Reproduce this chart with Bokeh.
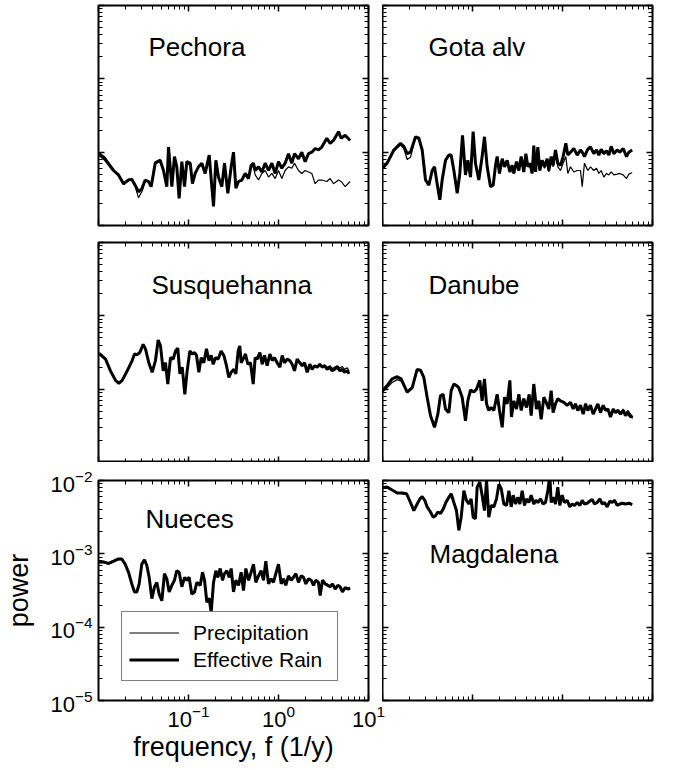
from bokeh.plotting import figure
from bokeh.models import (LogAxis, LogTicker, FixedTicker, CustomJSTickFormatter,
                          Label, Legend, LegendItem, Range1d)
from bokeh.layouts import column, row
from bokeh.embed import file_html
from bokeh.resources import INLINE

FONT = "Liberation Sans"
FREQ_RANGE = (0.01, 10.0)
POWER_RANGE = (1e-5, 1e-2)

# ---------------------------------------------------------------------------
# Data: log10(frequency [1/y]) and log10(power)
# ---------------------------------------------------------------------------
pechora_f = [-2.000, -1.926, -1.833, -1.778, -1.722, -1.667, -1.630, -1.593, -1.556, -1.519,
             -1.481, -1.444, -1.415, -1.389, -1.370, -1.315, -1.278, -1.241, -1.222, -1.185,
             -1.156, -1.130, -1.104, -1.074, -1.044, -1.019, -0.981, -0.956, -0.926, -0.889,
             -0.852, -0.815, -0.770, -0.741, -0.722, -0.696, -0.667, -0.630, -0.600, -0.563,
             -0.526, -0.500, -0.474, -0.444, -0.407, -0.370, -0.333, -0.304, -0.278, -0.259,
             -0.222, -0.185, -0.148, -0.111, -0.074, -0.037, 0.000, 0.037, 0.074, 0.111,
             0.148, 0.178, 0.222, 0.259, 0.296, 0.333, 0.370, 0.407, 0.444, 0.481,
             0.537, 0.574, 0.611, 0.667, 0.696, 0.741, 0.796]
pechora_eff = [-4.02, -4.10, -4.25, -4.31, -4.43, -4.38, -4.37, -4.45, -4.54, -4.50,
               -4.38, -4.40, -4.47, -4.29, -4.15, -4.11, -4.25, -4.47, -3.93, -4.47,
               -4.06, -4.20, -4.63, -4.13, -4.47, -4.13, -4.15, -4.43, -4.29, -4.20,
               -4.15, -4.29, -4.04, -4.47, -4.74, -4.11, -4.34, -4.47, -4.15, -4.56,
               -4.20, -4.00, -4.49, -4.40, -4.38, -4.29, -4.36, -4.18, -4.15, -4.25,
               -4.20, -4.27, -4.15, -4.25, -4.15, -4.29, -4.13, -4.22, -4.15, -4.02,
               -4.15, -4.02, -4.09, -4.00, -4.13, -4.02, -4.00, -3.95, -3.97, -3.93,
               -3.81, -3.88, -3.84, -3.72, -3.81, -3.77, -3.84]
pechora_pre = [-4.00, -4.07, -4.24, -4.31, -4.44, -4.38, -4.38, -4.47, -4.62, -4.54,
               -4.39, -4.40, -4.47, -4.25, -4.13, -4.10, -4.25, -4.45, -3.95, -4.45,
               -4.09, -4.20, -4.61, -4.15, -4.45, -4.15, -4.18, -4.40, -4.29, -4.20,
               -4.18, -4.29, -4.06, -4.45, -4.72, -4.13, -4.34, -4.47, -4.18, -4.54,
               -4.20, -4.02, -4.47, -4.40, -4.38, -4.31, -4.36, -4.20, -4.20, -4.31,
               -4.38, -4.29, -4.25, -4.34, -4.29, -4.36, -4.25, -4.36, -4.25, -4.20,
               -4.22, -4.15, -4.25, -4.29, -4.25, -4.27, -4.29, -4.43, -4.38, -4.38,
               -4.40, -4.36, -4.43, -4.38, -4.40, -4.47, -4.40]

gota_f = [-2.000, -1.948, -1.874, -1.800, -1.763, -1.726, -1.689, -1.633, -1.596, -1.559,
          -1.522, -1.485, -1.448, -1.422, -1.393, -1.363, -1.337, -1.300, -1.263, -1.237,
          -1.207, -1.170, -1.141, -1.111, -1.078, -1.052, -1.022, -0.993, -0.967, -0.930,
          -0.893, -0.867, -0.837, -0.800, -0.770, -0.744, -0.726, -0.700, -0.670, -0.644,
          -0.615, -0.585, -0.559, -0.541, -0.511, -0.485, -0.459, -0.430, -0.407, -0.385,
          -0.363, -0.337, -0.319, -0.300, -0.274, -0.252, -0.226, -0.200, -0.170, -0.152,
          -0.126, -0.104, -0.078, -0.052, -0.022, 0.007, 0.037, 0.059, 0.089, 0.126,
          0.163, 0.200, 0.219, 0.244, 0.281, 0.311, 0.348, 0.378, 0.404, 0.430,
          0.459, 0.489, 0.515, 0.541, 0.570, 0.607, 0.637, 0.674, 0.711, 0.737,
          0.774]
gota_eff = [-4.22, -4.15, -3.97, -3.88, -3.92, -4.02, -4.00, -3.79, -3.81, -3.97,
            -4.38, -4.45, -4.25, -4.20, -4.43, -4.65, -4.38, -4.11, -4.04, -4.04,
            -4.25, -4.56, -4.29, -3.77, -4.31, -4.11, -4.34, -3.72, -4.15, -4.38,
            -4.06, -3.79, -4.20, -4.47, -4.45, -4.18, -4.06, -4.29, -4.09, -4.20,
            -4.11, -4.27, -4.18, -4.29, -4.13, -4.25, -4.06, -4.27, -4.02, -4.20,
            -4.15, -4.29, -3.91, -4.27, -3.93, -4.25, -4.11, -4.20, -4.09, -4.25,
            -4.06, -4.18, -3.97, -4.15, -4.18, -4.06, -3.88, -4.04, -4.00, -3.95,
            -4.04, -3.97, -4.00, -4.06, -3.96, -3.93, -4.02, -3.97, -4.04, -3.96,
            -4.02, -3.98, -4.04, -3.92, -4.02, -3.97, -4.00, -3.95, -4.06, -4.00,
            -3.97]
gota_pre = [-4.20, -4.13, -3.99, -3.90, -3.95, -4.10, -4.07, -3.80, -3.83, -3.99,
            -4.38, -4.44, -4.25, -4.22, -4.42, -4.63, -4.38, -4.13, -4.05, -4.05,
            -4.25, -4.54, -4.29, -3.79, -4.31, -4.13, -4.34, -3.74, -4.15, -4.37,
            -4.07, -3.81, -4.20, -4.45, -4.44, -4.18, -4.07, -4.29, -4.10, -4.20,
            -4.12, -4.27, -4.18, -4.29, -4.14, -4.25, -4.08, -4.27, -4.04, -4.20,
            -4.15, -4.29, -3.93, -4.27, -3.95, -4.25, -4.13, -4.22, -4.11, -4.27,
            -4.09, -4.20, -4.02, -4.20, -4.25, -4.15, -4.06, -4.29, -4.20, -4.27,
            -4.25, -4.25, -4.47, -4.15, -4.25, -4.20, -4.25, -4.22, -4.29, -4.25,
            -4.34, -4.29, -4.31, -4.27, -4.31, -4.30, -4.29, -4.31, -4.36, -4.30,
            -4.28]

susq_f = [-1.990, -1.922, -1.867, -1.811, -1.774, -1.737, -1.681, -1.626, -1.600, -1.570,
          -1.541, -1.504, -1.478, -1.441, -1.404, -1.367, -1.337, -1.311, -1.281, -1.256,
          -1.230, -1.200, -1.170, -1.144, -1.119, -1.096, -1.070, -1.041, -1.015, -0.985,
          -0.959, -0.933, -0.911, -0.885, -0.859, -0.830, -0.800, -0.774, -0.748, -0.726,
          -0.700, -0.670, -0.637, -0.607, -0.578, -0.552, -0.526, -0.496, -0.474, -0.448,
          -0.430, -0.415, -0.393, -0.367, -0.341, -0.311, -0.281, -0.259, -0.237, -0.207,
          -0.181, -0.156, -0.126, -0.096, -0.070, -0.044, -0.015, 0.015, 0.041, 0.067,
          0.096, 0.126, 0.152, 0.178, 0.207, 0.237, 0.263, 0.289, 0.319, 0.348,
          0.374, 0.400, 0.430, 0.459, 0.485, 0.511, 0.541, 0.570, 0.596, 0.622,
          0.652, 0.681, 0.707, 0.733, 0.763, 0.785]
susq_eff = [-3.52, -3.59, -3.75, -3.88, -3.92, -3.88, -3.75, -3.61, -3.52, -3.53,
            -3.50, -3.39, -3.45, -3.64, -3.77, -3.61, -3.33, -3.41, -3.75, -3.64,
            -3.93, -3.57, -3.59, -3.48, -3.44, -3.79, -3.70, -4.07, -3.75, -3.48,
            -3.52, -3.50, -3.54, -3.77, -3.57, -3.64, -3.45, -3.61, -3.54, -3.66,
            -3.57, -3.59, -3.48, -3.54, -3.68, -3.84, -3.77, -3.73, -3.79, -3.48,
            -3.41, -3.64, -3.59, -3.52, -3.66, -3.64, -3.93, -3.57, -3.59, -3.50,
            -3.66, -3.54, -3.68, -3.52, -3.61, -3.57, -3.64, -3.70, -3.54, -3.64,
            -3.59, -3.61, -3.66, -3.75, -3.59, -3.64, -3.68, -3.64, -3.77, -3.66,
            -3.73, -3.68, -3.70, -3.66, -3.70, -3.68, -3.73, -3.70, -3.75, -3.73,
            -3.70, -3.75, -3.73, -3.77, -3.75, -3.79]
susq_pre = [-3.50, -3.58, -3.74, -3.87, -3.91, -3.87, -3.74, -3.61, -3.53, -3.54,
            -3.50, -3.40, -3.46, -3.64, -3.76, -3.61, -3.34, -3.42, -3.74, -3.64,
            -3.92, -3.58, -3.59, -3.49, -3.45, -3.78, -3.70, -4.05, -3.74, -3.49,
            -3.52, -3.51, -3.54, -3.76, -3.57, -3.64, -3.46, -3.61, -3.55, -3.66,
            -3.57, -3.59, -3.49, -3.54, -3.68, -3.83, -3.77, -3.73, -3.78, -3.49,
            -3.42, -3.64, -3.59, -3.52, -3.66, -3.64, -3.92, -3.57, -3.59, -3.51,
            -3.66, -3.55, -3.68, -3.53, -3.61, -3.57, -3.64, -3.69, -3.55, -3.64,
            -3.59, -3.61, -3.66, -3.74, -3.59, -3.64, -3.68, -3.64, -3.76, -3.66,
            -3.72, -3.68, -3.70, -3.66, -3.69, -3.67, -3.70, -3.68, -3.72, -3.70,
            -3.68, -3.71, -3.69, -3.73, -3.71, -3.75]

danube_f = [-2.000, -1.948, -1.893, -1.837, -1.793, -1.726, -1.670, -1.615, -1.578, -1.541,
            -1.504, -1.467, -1.422, -1.385, -1.356, -1.326, -1.300, -1.263, -1.237, -1.207,
            -1.178, -1.152, -1.115, -1.078, -1.052, -1.022, -0.985, -0.956, -0.919, -0.893,
            -0.867, -0.844, -0.819, -0.793, -0.763, -0.726, -0.700, -0.670, -0.644, -0.615,
            -0.585, -0.567, -0.541, -0.511, -0.485, -0.459, -0.430, -0.400, -0.370, -0.348,
            -0.319, -0.289, -0.263, -0.237, -0.207, -0.181, -0.152, -0.126, -0.104, -0.078,
            -0.052, -0.022, 0.015, 0.052, 0.089, 0.119, 0.144, 0.170, 0.200, 0.230,
            0.256, 0.281, 0.311, 0.341, 0.367, 0.393, 0.422, 0.452, 0.478, 0.504,
            0.533, 0.563, 0.589, 0.615, 0.644, 0.674, 0.700, 0.726, 0.756, 0.778]
danube_eff = [-4.02, -3.95, -3.86, -3.83, -3.86, -4.04, -3.98, -3.73, -3.74, -3.84,
              -4.11, -4.36, -4.52, -4.34, -4.09, -4.07, -4.27, -4.32, -4.02, -3.93,
              -3.95, -3.98, -4.11, -4.43, -4.16, -4.01, -4.04, -4.00, -3.88, -4.16,
              -3.86, -4.20, -4.29, -4.25, -4.29, -4.07, -4.29, -4.52, -4.11, -4.20,
              -3.88, -4.38, -4.16, -4.27, -4.07, -4.29, -4.13, -4.25, -4.07, -4.36,
              -3.93, -4.27, -4.16, -4.41, -4.11, -4.18, -4.27, -4.02, -4.32, -4.20,
              -4.13, -4.16, -4.18, -4.22, -4.18, -4.27, -4.20, -4.29, -4.22, -4.34,
              -4.20, -4.29, -4.22, -4.34, -4.27, -4.20, -4.32, -4.22, -4.29, -4.27,
              -4.38, -4.27, -4.32, -4.29, -4.34, -4.29, -4.36, -4.32, -4.38, -4.36]
danube_pre = [-4.04, -3.98, -3.91, -3.87, -3.89, -4.05, -3.99, -3.74, -3.75, -3.85,
              -4.11, -4.35, -4.51, -4.33, -4.09, -4.08, -4.27, -4.31, -4.03, -3.94,
              -3.96, -3.99, -4.11, -4.42, -4.16, -4.02, -4.04, -4.01, -3.89, -4.15,
              -3.87, -4.19, -4.28, -4.25, -4.28, -4.08, -4.29, -4.50, -4.12, -4.20,
              -3.89, -4.37, -4.16, -4.27, -4.08, -4.28, -4.13, -4.24, -4.08, -4.35,
              -3.94, -4.26, -4.16, -4.40, -4.12, -4.18, -4.26, -4.03, -4.31, -4.20,
              -4.14, -4.16, -4.18, -4.21, -4.18, -4.26, -4.20, -4.28, -4.22, -4.33,
              -4.20, -4.28, -4.22, -4.33, -4.26, -4.21, -4.31, -4.23, -4.28, -4.27,
              -4.36, -4.27, -4.31, -4.28, -4.33, -4.27, -4.33, -4.29, -4.34, -4.40]

nueces_f = [-2.000, -1.944, -1.889, -1.833, -1.778, -1.741, -1.704, -1.667, -1.630, -1.600,
            -1.574, -1.548, -1.519, -1.489, -1.463, -1.437, -1.407, -1.378, -1.352, -1.326,
            -1.296, -1.267, -1.241, -1.215, -1.185, -1.156, -1.130, -1.104, -1.074, -1.044,
            -1.019, -0.993, -0.963, -0.933, -0.907, -0.870, -0.844, -0.822, -0.796, -0.770,
            -0.748, -0.722, -0.696, -0.674, -0.648, -0.622, -0.600, -0.574, -0.548, -0.526,
            -0.500, -0.474, -0.444, -0.415, -0.389, -0.363, -0.333, -0.304, -0.278, -0.252,
            -0.222, -0.193, -0.167, -0.141, -0.111, -0.081, -0.056, -0.030, 0.000, 0.030,
            0.056, 0.081, 0.111, 0.141, 0.167, 0.193, 0.222, 0.252, 0.278, 0.304,
            0.333, 0.363, 0.389, 0.415, 0.444, 0.463, 0.489, 0.519, 0.548, 0.574,
            0.600, 0.630, 0.659, 0.685, 0.711, 0.741, 0.770, 0.796]
nueces_eff = [-3.11, -3.11, -3.13, -3.10, -3.07, -3.07, -3.14, -3.25, -3.41, -3.52,
              -3.52, -3.41, -3.14, -3.08, -3.16, -3.32, -3.61, -3.45, -3.39, -3.55,
              -3.64, -3.27, -3.34, -3.52, -3.43, -3.36, -3.23, -3.25, -3.45, -3.32,
              -3.36, -3.32, -3.55, -3.52, -3.39, -3.43, -3.25, -3.36, -3.66, -3.61,
              -3.80, -3.39, -3.23, -3.32, -3.20, -3.36, -3.27, -3.23, -3.32, -3.20,
              -3.52, -3.36, -3.43, -3.25, -3.50, -3.20, -3.36, -3.25, -3.14, -3.39,
              -3.30, -3.23, -3.36, -3.10, -3.41, -3.34, -3.39, -3.27, -3.14, -3.41,
              -3.34, -3.43, -3.30, -3.36, -3.32, -3.27, -3.39, -3.30, -3.32, -3.41,
              -3.34, -3.36, -3.43, -3.36, -3.39, -3.57, -3.36, -3.41, -3.43, -3.45,
              -3.41, -3.48, -3.43, -3.45, -3.52, -3.46, -3.48, -3.47]
nueces_pre = [-3.12, -3.12, -3.14, -3.11, -3.08, -3.08, -3.15, -3.26, -3.41, -3.51,
              -3.51, -3.40, -3.15, -3.09, -3.16, -3.32, -3.60, -3.45, -3.39, -3.54,
              -3.63, -3.28, -3.34, -3.51, -3.43, -3.36, -3.24, -3.25, -3.44, -3.32,
              -3.36, -3.33, -3.54, -3.51, -3.39, -3.43, -3.26, -3.36, -3.65, -3.60,
              -3.78, -3.39, -3.24, -3.32, -3.21, -3.36, -3.27, -3.24, -3.32, -3.21,
              -3.51, -3.36, -3.42, -3.26, -3.49, -3.21, -3.36, -3.26, -3.15, -3.38,
              -3.30, -3.24, -3.36, -3.11, -3.40, -3.34, -3.38, -3.28, -3.15, -3.40,
              -3.34, -3.42, -3.30, -3.36, -3.32, -3.28, -3.38, -3.30, -3.32, -3.40,
              -3.34, -3.36, -3.42, -3.36, -3.38, -3.55, -3.36, -3.40, -3.42, -3.44,
              -3.41, -3.47, -3.43, -3.45, -3.50, -3.46, -3.47, -3.46]

magd_f = [-2.000, -1.948, -1.893, -1.837, -1.781, -1.733, -1.689, -1.652, -1.615, -1.585,
          -1.559, -1.530, -1.504, -1.467, -1.437, -1.411, -1.385, -1.356, -1.326, -1.296,
          -1.263, -1.237, -1.207, -1.178, -1.152, -1.126, -1.096, -1.067, -1.041, -1.015,
          -0.993, -0.967, -0.948, -0.919, -0.893, -0.867, -0.844, -0.819, -0.793, -0.763,
          -0.733, -0.707, -0.681, -0.652, -0.622, -0.596, -0.570, -0.548, -0.522, -0.496,
          -0.474, -0.448, -0.422, -0.400, -0.374, -0.348, -0.319, -0.296, -0.274, -0.244,
          -0.215, -0.189, -0.163, -0.141, -0.126, -0.104, -0.078, -0.052, -0.030, -0.004,
          0.022, 0.052, 0.081, 0.107, 0.133, 0.163, 0.193, 0.219, 0.244, 0.274,
          0.304, 0.330, 0.356, 0.385, 0.415, 0.441, 0.467, 0.496, 0.526, 0.552,
          0.578, 0.607, 0.637, 0.663, 0.700, 0.737, 0.774]
magd_eff = [-2.10, -2.09, -2.13, -2.17, -2.17, -2.18, -2.30, -2.41, -2.32, -2.25,
            -2.22, -2.27, -2.36, -2.43, -2.50, -2.48, -2.43, -2.45, -2.39, -2.30,
            -2.23, -2.18, -2.30, -2.41, -2.68, -2.50, -2.14, -2.27, -2.32, -2.25,
            -2.50, -2.52, -2.09, -2.02, -2.20, -2.41, -2.00, -2.50, -2.34, -2.36,
            -2.25, -2.05, -2.11, -2.32, -2.34, -2.14, -2.36, -2.20, -2.32, -2.23,
            -2.32, -2.14, -2.34, -2.25, -2.30, -2.20, -2.32, -2.27, -2.30, -2.25,
            -2.32, -2.30, -2.14, -1.93, -2.30, -2.23, -2.32, -2.09, -2.34, -2.20,
            -2.30, -2.27, -2.36, -2.32, -2.34, -2.30, -2.34, -2.27, -2.32, -2.31,
            -2.28, -2.26, -2.32, -2.30, -2.25, -2.32, -2.30, -2.36, -2.28, -2.30,
            -2.27, -2.34, -2.32, -2.31, -2.32, -2.31, -2.33]
magd_pre = [-2.11, -2.10, -2.13, -2.17, -2.18, -2.19, -2.30, -2.40, -2.32, -2.26,
            -2.23, -2.27, -2.36, -2.43, -2.49, -2.48, -2.43, -2.45, -2.39, -2.31,
            -2.24, -2.19, -2.30, -2.41, -2.66, -2.50, -2.15, -2.27, -2.32, -2.26,
            -2.49, -2.51, -2.10, -2.03, -2.20, -2.40, -2.01, -2.49, -2.34, -2.36,
            -2.26, -2.06, -2.12, -2.32, -2.34, -2.15, -2.36, -2.21, -2.32, -2.24,
            -2.32, -2.15, -2.34, -2.26, -2.30, -2.21, -2.32, -2.27, -2.30, -2.26,
            -2.32, -2.30, -2.15, -1.95, -2.30, -2.24, -2.32, -2.10, -2.34, -2.21,
            -2.30, -2.27, -2.35, -2.32, -2.34, -2.30, -2.34, -2.28, -2.32, -2.31,
            -2.29, -2.27, -2.32, -2.30, -2.26, -2.32, -2.30, -2.35, -2.29, -2.30,
            -2.28, -2.34, -2.32, -2.31, -2.32, -2.31, -2.33]

# Minor tick positions (2..9 x 10^k) for the labelled frequency axis
MINOR_F = [m * 10.0 ** k for k in (-2, -1, 0) for m in range(2, 10)]


def values(exps):
    return [10.0 ** e for e in exps]


FRAME_W, FRAME_H = 270, 220


def frame_point(dx, dy):
    """Data coordinates of a point dx px right of the frame's left edge and
    dy px below its top edge (log axes spanning 3 decades each)."""
    return (10.0 ** (-2 + 3.0 * dx / FRAME_W), 10.0 ** (-2 - 3.0 * dy / FRAME_H))


def style_axis(ax, labelled):
    ax.axis_line_color = None
    ax.major_tick_in = 6
    ax.major_tick_out = 0
    ax.minor_tick_in = 4
    ax.minor_tick_out = 0
    ax.major_tick_line_color = "black"
    ax.major_tick_line_width = 1.5
    ax.minor_tick_line_color = "black"
    ax.minor_tick_line_width = 1
    if labelled:
        ax.major_label_text_font = FONT
        ax.major_label_text_font_size = "22px"
        ax.major_label_text_color = "black"
    else:
        ax.formatter = CustomJSTickFormatter(code="return ''")
        ax.major_label_text_font_size = "0px"
        ax.major_label_standoff = 0


def panel(name, f_exp, eff_exp, pre_exp, borders, name_off, labelled=False, margin=None):
    left, right, top, bottom = borders
    kw = {}
    if margin is not None:
        kw["margin"] = margin
    p = figure(x_axis_type="log", y_axis_type="log",
               x_range=Range1d(*FREQ_RANGE), y_range=Range1d(*POWER_RANGE),
               frame_width=FRAME_W, frame_height=FRAME_H,
               output_backend="svg", toolbar_location=None,
               min_border_left=left, min_border_right=right,
               min_border_top=top, min_border_bottom=bottom,
               background_fill_color="white", background_fill_alpha=0,
               border_fill_color="white", border_fill_alpha=0,
               outline_line_color="black", outline_line_width=2, **kw)
    p.xgrid.visible = False
    p.ygrid.visible = False

    bottom_ax = p.xaxis[0]
    left_ax = p.yaxis[0]
    top_ax = LogAxis()
    right_ax = LogAxis()
    p.add_layout(top_ax, "above")
    p.add_layout(right_ax, "right")

    for ax in (top_ax, right_ax, left_ax):
        ax.ticker = LogTicker(num_minor_ticks=10)
    if labelled:
        bottom_ax.ticker = FixedTicker(ticks=[0.1, 1.0, 10.0], minor_ticks=MINOR_F)
    else:
        bottom_ax.ticker = LogTicker(num_minor_ticks=10)

    style_axis(top_ax, False)
    style_axis(right_ax, False)
    style_axis(bottom_ax, labelled)
    style_axis(left_ax, labelled)

    if labelled:
        bottom_ax.major_label_standoff = 4
        left_ax.major_label_standoff = 6
        bottom_ax.axis_label = "frequency, f (1/y)"
        left_ax.axis_label = "power"
        for ax in (bottom_ax, left_ax):
            ax.axis_label_text_font = FONT
            ax.axis_label_text_font_size = "27px"
            ax.axis_label_text_font_style = "normal"
            ax.axis_label_text_color = "black"
        bottom_ax.axis_label_standoff = 2
        left_ax.axis_label_standoff = 13

    fx = values(f_exp)
    thick = p.line(fx, values(eff_exp), line_color="black", line_width=3)
    thin = p.line(fx, values(pre_exp), line_color="black", line_width=1.2)

    lx, ly = frame_point(*name_off)
    p.add_layout(Label(x=lx, y=ly, text=name, text_font=FONT, text_font_size="26px",
                       text_color="black", text_align="left",
                       text_baseline="alphabetic"))

    if labelled:
        legend = Legend(items=[LegendItem(label="Precipitation", renderers=[thin]),
                               LegendItem(label="Effective Rain", renderers=[thick])],
                        location=(23, 19), orientation="vertical",
                        border_line_color="black", border_line_width=1.5,
                        background_fill_color="white", background_fill_alpha=1.0,
                        padding=7, spacing=0, margin=0,
                        glyph_width=50, glyph_height=27,
                        label_height=27, label_width=137, label_standoff=14,
                        label_text_font=FONT, label_text_font_size="21px",
                        label_text_color="black")
        p.add_layout(legend)
    return p


# borders: (left, right, top, bottom)
L_LEFT, L_RIGHT = 98, 20
R_LEFT, R_RIGHT = 0, 12
R_MARGIN = (0, 0, 0, -6)
ROW1 = (5, 8)
ROW2 = (9, 0)
ROW3 = (18, 66)

p1 = panel("Pechora", pechora_f, pechora_eff, pechora_pre, (L_LEFT, L_RIGHT) + ROW1, (50, 41))
p2 = panel("Gota alv", gota_f, gota_eff, gota_pre, (R_LEFT, R_RIGHT) + ROW1, (46, 41),
           margin=R_MARGIN)
p3 = panel("Susquehanna", susq_f, susq_eff, susq_pre, (L_LEFT, L_RIGHT) + ROW2, (53, 42))
p4 = panel("Danube", danube_f, danube_eff, danube_pre, (R_LEFT, R_RIGHT) + ROW2, (46, 42),
           margin=R_MARGIN)
p5 = panel("Nueces", nueces_f, nueces_eff, nueces_pre, (L_LEFT, L_RIGHT) + ROW3, (47, 38),
           labelled=True)
p6 = panel("Magdalena", magd_f, magd_eff, magd_pre, (R_LEFT, R_RIGHT) + ROW3, (47, 73),
           margin=R_MARGIN)

layout = column(row(p1, p2), row(p3, p4), row(p5, p6))

open("out.html", "w").write(file_html(layout, INLINE))
